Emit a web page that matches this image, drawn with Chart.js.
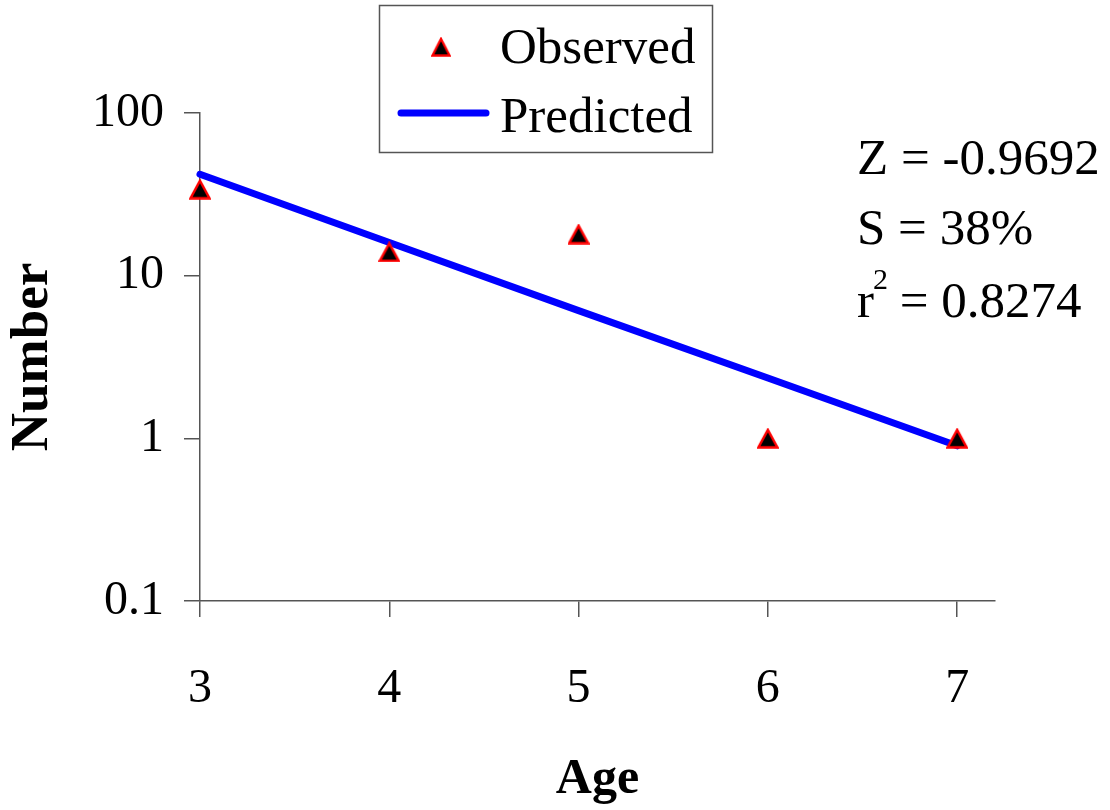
<!DOCTYPE html>
<html>
<head>
<meta charset="utf-8">
<script src="https://cdn.jsdelivr.net/npm/chart.js@4"></script>
<style>
  html, body { margin: 0; padding: 0; background: #fff; }
  #wrap { width: 1110px; height: 810px; position: relative; }
</style>
</head>
<body>
<div id="wrap"><canvas id="fig"></canvas></div>
<script>
// data
var ages = [3, 4, 5, 6, 7];
var observed = [34, 14, 18, 1, 1];
var predicted = [42, 16, 6.1, 2.35, 0.9];
var ageTicks = [3, 4, 5, 6, 7];
var numberTicks = [0.1, 1, 10, 100];
var statLines = ['Z = -0.9692', 'S = 38%', 'r2 = 0.8274'];

var serif = "'Liberation Serif', 'Times New Roman', serif";
var axisGrey = '#555';

function pts(ys) {
    return ages.map(function (a, i) { return { x: a, y: ys[i] }; });
}

// excel style marker: triangle centred on its box
function triMarker(w, h) {
    var cv = document.createElement('canvas');
    cv.width = w; cv.height = h;
    var c = cv.getContext('2d');
    c.fillStyle = '#000';
    c.strokeStyle = '#ff0000';
    c.lineWidth = 2.5;
    c.lineJoin = 'miter';
    c.beginPath();
    c.moveTo(w / 2, 2);
    c.lineTo(w - 1.5, h - 1.5);
    c.lineTo(1.5, h - 1.5);
    c.closePath();
    c.fill();
    c.stroke();
    return cv;
}
var marker = triMarker(22, 21);

// white background
var bgPlugin = {
    id: 'bg',
    beforeDraw: function (chart) {
        var c = chart.ctx;
        c.save();
        c.fillStyle = '#fff';
        c.fillRect(0, 0, chart.width, chart.height);
        c.restore();
    }
};

// boxed legend + the fit statistics on the right
var notesPlugin = {
    id: 'notes',
    afterDraw: function (chart) {
        var c = chart.ctx;
        var obs = chart.data.datasets[0], pred = chart.data.datasets[1];
        c.save();
        // legend box
        c.strokeStyle = axisGrey;
        c.lineWidth = 1.5;
        c.strokeRect(379.5, 5.5, 333, 147);
        // observed marker
        c.drawImage(marker, 441 - 10, 47 - 10, 20, 20);
        // predicted line
        c.strokeStyle = pred.borderColor;
        c.lineWidth = pred.borderWidth;
        c.lineCap = 'round';
        c.beginPath();
        c.moveTo(401, 113); c.lineTo(486, 113);
        c.stroke();
        c.fillStyle = '#000';
        c.font = '51px ' + serif;
        c.textBaseline = 'middle';
        c.textAlign = 'left';
        c.fillText(obs.label, 500, 50);
        c.fillText(pred.label, 500, 119);

        // statistics
        var x0 = 857;
        c.fillText(statLines[0], x0, 161);
        c.fillText(statLines[1], x0, 231);
        var r = statLines[2];
        c.fillText(r.charAt(0), x0, 304);
        var w0 = c.measureText(r.charAt(0)).width;
        c.font = '30px ' + serif;
        c.fillText(r.charAt(1), x0 + w0 - 1, 281);
        var w1 = c.measureText(r.charAt(1)).width;
        c.font = '51px ' + serif;
        c.fillText(r.slice(2), x0 + w0 + w1 - 2, 304);
        c.restore();
    }
};

new Chart(document.getElementById('fig'), {
    type: 'scatter',
    data: {
        datasets: [
            {
                label: 'Observed',
                data: pts(observed),
                pointStyle: marker,
                pointRadius: 11,
                pointHoverRadius: 11,
                showLine: false,
                clip: false
            },
            {
                label: 'Predicted',
                data: pts(predicted),
                showLine: true,
                borderColor: '#0000ff',
                borderWidth: 7,
                borderCapStyle: 'round',
                pointRadius: 0,
                pointHoverRadius: 0,
                tension: 0,
                fill: false,
                clip: false
            }
        ]
    },
    options: {
        responsive: true,
        maintainAspectRatio: false,
        animation: false,
        events: [],
        layout: { padding: { top: 113, right: 115, left: 0, bottom: 0 } },
        plugins: {
            legend: { display: false },
            tooltip: { enabled: false }
        },
        scales: {
            x: {
                type: 'linear',
                min: 3,
                max: 7.2,
                afterBuildTicks: function (s) {
                    s.ticks = ageTicks.map(function (v) { return { value: v }; });
                },
                afterFit: function (s) { s.height = 209; },
                grid: { drawOnChartArea: false, drawTicks: true, tickLength: 16, color: axisGrey, lineWidth: 1.5 },
                border: { color: axisGrey, width: 1.5 },
                ticks: {
                    color: '#000',
                    font: { family: serif, size: 48 },
                    padding: 44,
                    maxRotation: 0
                },
                title: {
                    display: true,
                    text: 'Age',
                    color: '#000',
                    font: { family: serif, size: 50, weight: 'bold' },
                    padding: { top: 0, bottom: 0 }
                }
            },
            y: {
                type: 'logarithmic',
                min: 0.1,
                max: 100,
                afterBuildTicks: function (s) {
                    s.ticks = numberTicks.map(function (v) { return { value: v }; });
                },
                afterFit: function (s) { s.width = 200; },
                grid: { drawOnChartArea: false, drawTicks: true, tickLength: 16, color: axisGrey, lineWidth: 1.5 },
                border: { color: axisGrey, width: 1.5 },
                ticks: {
                    color: '#000',
                    font: { family: serif, size: 48 },
                    padding: 20,
                    callback: function (v) { return String(v); }
                },
                title: {
                    display: true,
                    text: 'Number',
                    color: '#000',
                    font: { family: serif, size: 53, weight: 'bold' },
                    padding: { top: 2, bottom: 0 }
                }
            }
        }
    },
    plugins: [bgPlugin, notesPlugin]
});
</script>
</body>
</html>
